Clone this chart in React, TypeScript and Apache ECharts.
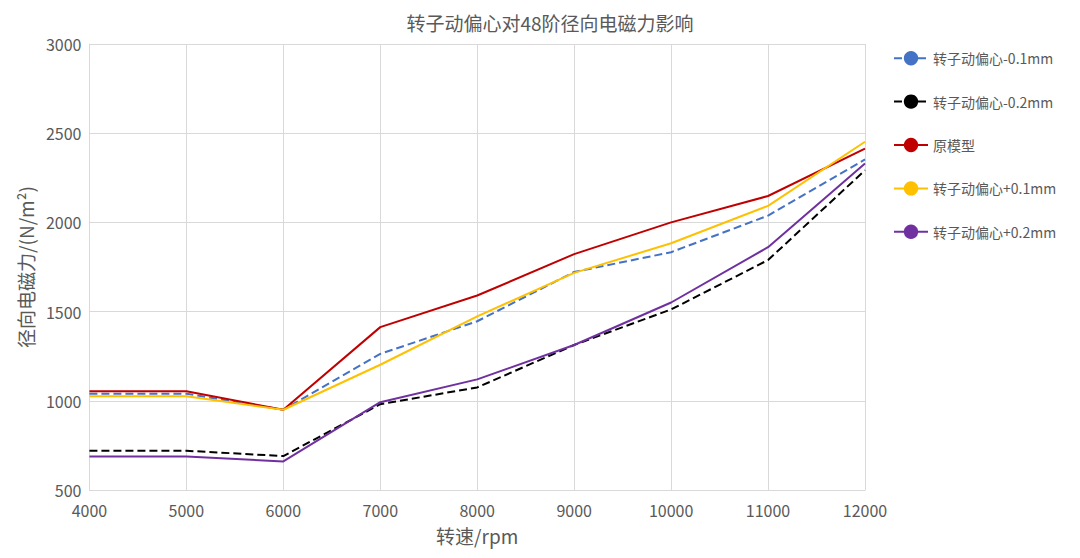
import React, { useEffect, useRef } from 'react';
import * as echarts from 'echarts';

const speeds = ['4000', '5000', '6000', '7000', '8000', '9000', '10000', '11000', '12000'];
const minus01 = [1040, 1040, 950, 1263, 1446, 1722, 1833, 2038, 2353];
const minus02 = [720, 720, 690, 981, 1075, 1313, 1512, 1789, 2292];
const original = [1053, 1053, 950, 1413, 1590, 1822, 2000, 2148, 2414];
const plus01 = [1025, 1025, 950, 1202, 1473, 1717, 1883, 2093, 2452];
const plus02 = [688, 688, 660, 992, 1120, 1313, 1551, 1861, 2330];

const font = '"Microsoft YaHei", "Noto Sans CJK SC", sans-serif';

const App: React.FC = () => {
  const chartRef = useRef<HTMLDivElement | null>(null);

  useEffect(() => {
    if (!chartRef.current) return;
    const chart = echarts.init(chartRef.current, undefined, { renderer: 'svg' });
    const line = (name: string, data: number[], color: string, type: 'solid' | 'dashed') => ({
      name,
      type: 'line' as const,
      data,
      symbol: 'none',
      lineStyle: { color, width: 2, type },
      itemStyle: { color },
    });
    chart.setOption({
      animation: false,
      textStyle: { fontFamily: font },
      title: {
        text: '转子动偏心对48阶径向电磁力影响',
        left: 537,
        top: 0,
        textAlign: 'center',
        textStyle: { fontSize: 19, fontWeight: 'normal', color: '#595959', fontFamily: font },
      },
      grid: { left: 75, right: 207, top: 36, bottom: 54 },
      legend: {
        orient: 'vertical',
        left: 880,
        top: 38,
        itemGap: 29,
        itemWidth: 34,
        itemHeight: 18,
        textStyle: { fontSize: 14, color: '#595959' },
      },
      xAxis: {
        type: 'category',
        boundaryGap: false,
        data: speeds,
        name: '转速/rpm',
        nameLocation: 'middle',
        nameGap: 36,
        nameTextStyle: { fontSize: 19, color: '#595959' },
        axisLine: { lineStyle: { color: '#d9d9d9' } },
        axisTick: { show: false },
        axisLabel: { fontSize: 16, color: '#595959', margin: 12 },
        splitLine: { show: true, lineStyle: { color: '#d9d9d9' } },
      },
      yAxis: {
        type: 'value',
        min: 500,
        max: 3000,
        interval: 500,
        name: '径向电磁力/(N/m²)',
        nameLocation: 'middle',
        nameGap: 52,
        nameTextStyle: { fontSize: 19, color: '#595959' },
        axisLine: { show: true, lineStyle: { color: '#d9d9d9' } },
        axisLabel: { fontSize: 16, color: '#595959', formatter: (v: number) => String(v) },
        splitLine: { lineStyle: { color: '#d9d9d9' } },
      },
      series: [
        line('转子动偏心-0.1mm', minus01, '#4472c4', 'dashed'),
        line('转子动偏心-0.2mm', minus02, '#000000', 'dashed'),
        line('原模型', original, '#c00000', 'solid'),
        line('转子动偏心+0.1mm', plus01, '#ffc000', 'solid'),
        line('转子动偏心+0.2mm', plus02, '#7030a0', 'solid'),
      ],
    });
    return () => chart.dispose();
  }, []);

  return <div ref={chartRef} style={{ width: 1064, height: 542 }} />;
};

export default App;
